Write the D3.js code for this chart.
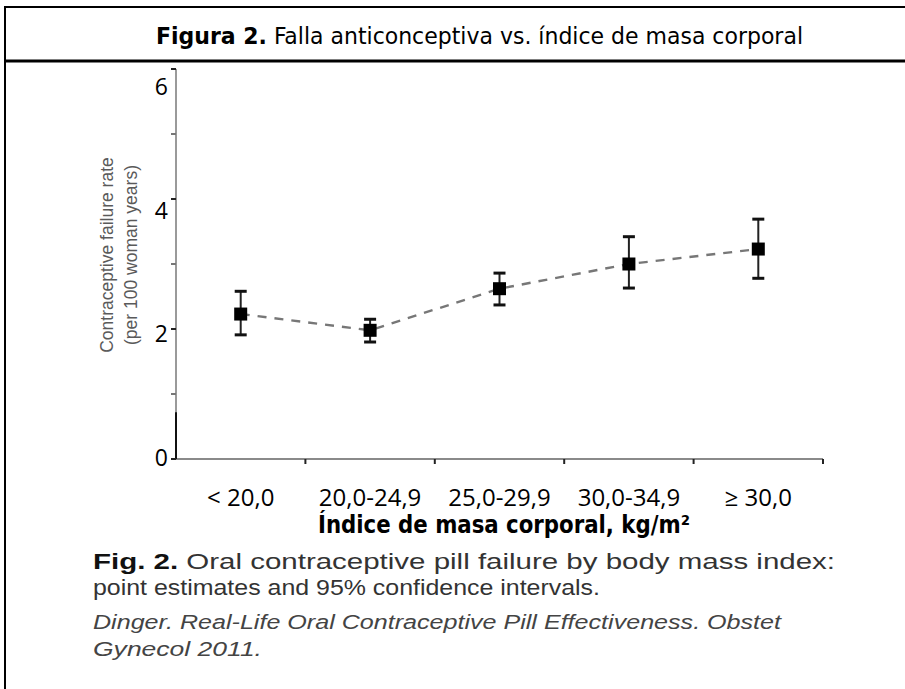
<!DOCTYPE html>
<html>
<head>
<meta charset="utf-8">
<script src="https://cdn.jsdelivr.net/npm/d3@7"></script>
<style>
  body { margin: 0; background: #fff; }
  svg { display: block; }
</style>
</head>
<body>
<div id="chart"></div>
<script>
// data
var categories = ['< 20,0', '20,0-24,9', '25,0-29,9', '30,0-34,9', '≥ 30,0'];
var estimates = [2.23, 1.98, 2.62, 3.00, 3.23];
var lower = [1.91, 1.80, 2.37, 2.63, 2.78];
var upper = [2.58, 2.15, 2.86, 3.42, 3.69];
var yMinorTicks = [0, 1, 2, 3, 4, 5, 6];
var yTickLabels = [0, 2, 4, 6];

var width = 905, height = 689;
var narrow = '"Liberation Sans Narrow", "DejaVu Sans Condensed", "Liberation Sans", sans-serif';

var svg = d3.select('#chart').append('svg')
  .attr('width', width)
  .attr('height', height);

// frame
svg.append('line').attr('x1', 4).attr('x2', width).attr('y1', 7).attr('y2', 7)
  .attr('stroke', '#000').attr('stroke-width', 2);
svg.append('line').attr('x1', 4).attr('x2', width).attr('y1', 61).attr('y2', 61)
  .attr('stroke', '#000').attr('stroke-width', 3);
svg.append('line').attr('x1', 5).attr('x2', 5).attr('y1', 6).attr('y2', height)
  .attr('stroke', '#000').attr('stroke-width', 2);

// header
var title = svg.append('text')
  .attr('x', 156).attr('y', 44)
  .attr('textLength', 647).attr('lengthAdjust', 'spacingAndGlyphs')
  .style('font-family', narrow)
  .style('font-size', '23px');
title.append('tspan').style('font-weight', 'bold').text('Figura 2.');
title.append('tspan').text(' Falla anticonceptiva vs. índice de masa corporal');

// scales
var x = d3.scaleBand()
  .domain(categories)
  .range([176, 823]);

var y = d3.scaleLinear()
  .domain([0, 6])
  .range([459, 69]);

// the big overlaid tick numbers sit a little off the original ticks
var yLab = d3.scaleLinear()
  .domain([0, 6])
  .range([457, 86]);

// axes lines
svg.append('line')
  .attr('x1', x.range()[0]).attr('x2', x.range()[1])
  .attr('y1', y(0)).attr('y2', y(0))
  .attr('stroke', '#8a8a8a').attr('stroke-width', 2);
svg.append('line')
  .attr('x1', x.range()[0]).attr('x2', x.range()[0])
  .attr('y1', y(0)).attr('y2', y(6))
  .attr('stroke', '#9a9a9a').attr('stroke-width', 2);
svg.append('line')
  .attr('x1', x.range()[0]).attr('x2', x.range()[0])
  .attr('y1', y(0)).attr('y2', y(0.72))
  .attr('stroke', '#111').attr('stroke-width', 2);

// y ticks
svg.append('g').selectAll('line')
  .data(yMinorTicks)
  .enter()
  .append('line')
  .attr('x1', x.range()[0] - 5).attr('x2', x.range()[0])
  .attr('y1', function (d) { return y(d); })
  .attr('y2', function (d) { return y(d); })
  .attr('stroke', function (d) { return d % 2 === 0 ? '#222' : '#777'; })
  .attr('stroke-width', 2);

svg.append('g').selectAll('text')
  .data(yTickLabels)
  .enter()
  .append('text')
  .attr('x', 168)
  .attr('y', function (d) { return yLab(d); })
  .attr('text-anchor', 'end')
  .attr('dominant-baseline', 'central')
  .style('font-family', '"Open Sans", sans-serif')
  .style('font-size', '23px')
  .text(function (d) { return d; });

// x ticks at the band edges
svg.append('g').selectAll('line')
  .data(categories)
  .enter()
  .append('line')
  .attr('x1', function (d) { return x(d) + x.bandwidth(); })
  .attr('x2', function (d) { return x(d) + x.bandwidth(); })
  .attr('y1', y(0)).attr('y2', y(0) + 5)
  .attr('stroke', '#222').attr('stroke-width', 2);

svg.append('g').selectAll('text')
  .data(categories)
  .enter()
  .append('text')
  .attr('x', function (d) { return x(d) + x.bandwidth() / 2; })
  .attr('y', 506)
  .attr('text-anchor', 'middle')
  .style('font-family', '"Open Sans", sans-serif')
  .style('font-size', '24px')
  .text(function (d) { return d; });

// y axis title
var ytitle = svg.append('text')
  .attr('transform', 'translate(113,255) rotate(-90)')
  .attr('text-anchor', 'middle')
  .style('font-family', '"Liberation Sans", Arial, sans-serif')
  .style('font-size', '17.5px')
  .style('fill', '#5a5a5a');
ytitle.append('tspan').attr('x', 0).attr('dy', 0).text('Contraceptive failure rate');
ytitle.append('tspan').attr('x', 0).attr('dy', 24).text('(per 100 woman years)');

// x axis title
svg.append('text')
  .attr('x', 318).attr('y', 533)
  .attr('textLength', 372).attr('lengthAdjust', 'spacingAndGlyphs')
  .style('font-family', narrow)
  .style('font-size', '25px')
  .style('font-weight', 'bold')
  .text('Índice de masa corporal, kg/m²');

// dashed connecting line
var pts = categories.map(function (c, i) { return {cat: c, est: estimates[i], lo: lower[i], hi: upper[i]}; });

var line = d3.line()
  .x(function (d) { return x(d.cat) + x.bandwidth() / 2; })
  .y(function (d) { return y(d.est); });

svg.append('path')
  .datum(pts)
  .attr('d', line)
  .attr('fill', 'none')
  .attr('stroke', '#777')
  .attr('stroke-width', 2.4)
  .attr('stroke-dasharray', '9,8');

// error bars
var eb = svg.append('g').selectAll('g')
  .data(pts)
  .enter()
  .append('g');

eb.append('line')
  .attr('x1', function (d) { return x(d.cat) + x.bandwidth() / 2; })
  .attr('x2', function (d) { return x(d.cat) + x.bandwidth() / 2; })
  .attr('y1', function (d) { return y(d.lo); })
  .attr('y2', function (d) { return y(d.hi); })
  .attr('stroke', '#222').attr('stroke-width', 2);

[function (d) { return y(d.lo); }, function (d) { return y(d.hi); }].forEach(function (fy) {
  eb.append('line')
    .attr('x1', function (d) { return x(d.cat) + x.bandwidth() / 2 - 6; })
    .attr('x2', function (d) { return x(d.cat) + x.bandwidth() / 2 + 6; })
    .attr('y1', fy).attr('y2', fy)
    .attr('stroke', '#111').attr('stroke-width', 3);
});

eb.append('rect')
  .attr('x', function (d) { return x(d.cat) + x.bandwidth() / 2 - 6.5; })
  .attr('y', function (d) { return y(d.est) - 6.5; })
  .attr('width', 13).attr('height', 13)
  .attr('fill', '#000');

// caption
var capFont = '"Liberation Sans", Arial, sans-serif';

var cap1 = svg.append('text')
  .attr('x', 93).attr('y', 569)
  .attr('textLength', 742).attr('lengthAdjust', 'spacingAndGlyphs')
  .style('font-family', capFont)
  .style('font-size', '22px')
  .style('fill', '#333');
cap1.append('tspan').style('font-weight', 'bold').style('fill', '#111').text('Fig. 2.');
cap1.append('tspan').text(' Oral contraceptive pill failure by body mass index:');

svg.append('text')
  .attr('x', 93).attr('y', 595)
  .attr('textLength', 507).attr('lengthAdjust', 'spacingAndGlyphs')
  .style('font-family', capFont)
  .style('font-size', '22px')
  .style('fill', '#333')
  .text('point estimates and 95% confidence intervals.');

svg.append('text')
  .attr('x', 93).attr('y', 629)
  .attr('textLength', 688).attr('lengthAdjust', 'spacingAndGlyphs')
  .style('font-family', capFont)
  .style('font-size', '20px')
  .style('font-style', 'italic')
  .style('fill', '#444')
  .text('Dinger. Real-Life Oral Contraceptive Pill Effectiveness. Obstet');

svg.append('text')
  .attr('x', 93).attr('y', 656)
  .attr('textLength', 169).attr('lengthAdjust', 'spacingAndGlyphs')
  .style('font-family', capFont)
  .style('font-size', '20px')
  .style('font-style', 'italic')
  .style('fill', '#444')
  .text('Gynecol 2011.');
</script>
</body>
</html>
